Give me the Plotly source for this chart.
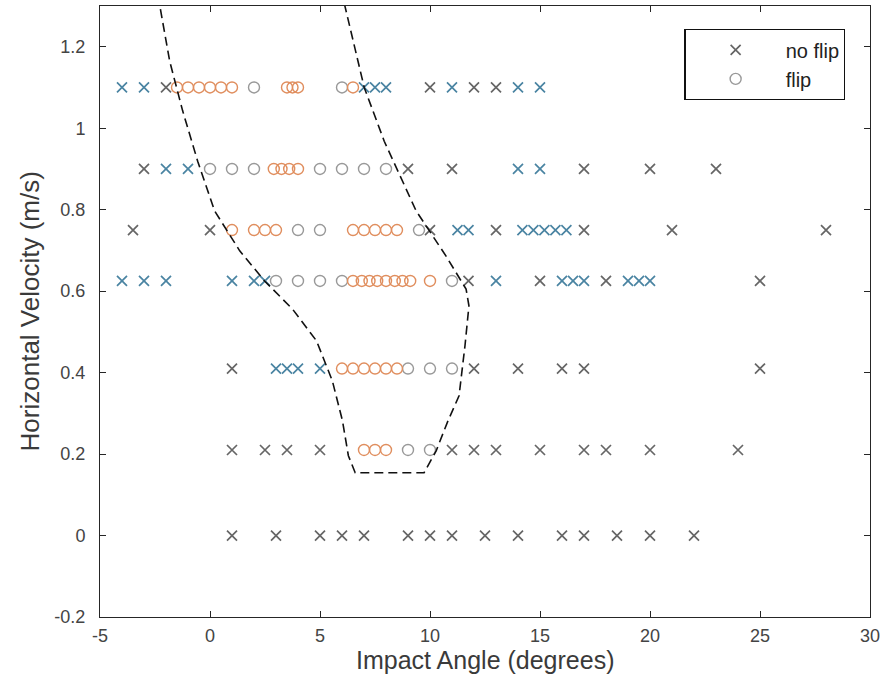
import plotly.graph_objects as go

# Trials that did not flip (gray group / blue group)
noflip_gray_x = [-2, 10, 12, 13,
                 -3, 9, 11, 17, 20, 23,
                 -3.5, 0, 10, 13, 17, 21, 28,
                 11.75, 15, 18, 25,
                 1, 12, 14, 16, 17, 25,
                 1, 2.5, 3.5, 5, 11, 12, 13, 15, 17, 18, 20, 24,
                 1, 3, 5, 6, 7, 9, 10, 11, 12.5, 14, 16, 17, 18.5, 20, 22]
noflip_gray_y = [1.1] * 4 + [0.9] * 6 + [0.75] * 7 + [0.625] * 4 + [0.41] * 6 + [0.21] * 12 + [0.0] * 15

noflip_blue_x = [-4, -3, 7, 7.5, 8, 11, 14, 15,
                 -2, -1, 14, 15,
                 11.25, 11.75, 14.2, 14.7, 15.2, 15.7, 16.2,
                 -4, -3, -2, 1, 2, 2.5, 13, 16, 16.5, 17, 19, 19.5, 20,
                 3, 3.5, 4, 5]
noflip_blue_y = [1.1] * 8 + [0.9] * 4 + [0.75] * 7 + [0.625] * 13 + [0.41] * 4

# Trials that flipped (gray group / orange group)
flip_gray_x = [2, 6,
               0, 1, 2, 5, 6, 7, 8,
               4, 5, 9.5,
               3, 4, 5, 6, 11,
               9, 10, 11,
               9, 10]
flip_gray_y = [1.1] * 2 + [0.9] * 7 + [0.75] * 3 + [0.625] * 5 + [0.41] * 3 + [0.21] * 2

flip_orange_x = [-1.5, -1, -0.5, 0, 0.5, 1, 3.5, 3.75, 4, 6.5,
                 2.9, 3.25, 3.6, 4,
                 1, 2, 2.5, 3, 6.5, 7, 7.5, 8, 8.5,
                 6.5, 6.9, 7.25, 7.6, 8, 8.4, 8.75, 9.1, 10,
                 6, 6.5, 7, 7.5, 8, 8.5,
                 7, 7.5, 8]
flip_orange_y = [1.1] * 10 + [0.9] * 4 + [0.75] * 9 + [0.625] * 9 + [0.41] * 6 + [0.21] * 3

# Boundary of the flip region
boundary_x = [-2.45, -2.28, -1.83, -1.24, -0.56, 0.21, 1.35, 2.48, 3.75, 4.84, 5.56, 6.02, 6.29, 6.60,
              9.73, 10.28, 10.82, 11.32, 11.59, 11.77, 11.64, 10.73, 9.37, 8.51, 7.92, 7.01, 6.11, 6.0]
boundary_y = [1.36, 1.30, 1.164, 1.042, 0.919, 0.797, 0.699, 0.625, 0.556, 0.478, 0.380, 0.282, 0.196, 0.154,
              0.154, 0.208, 0.282, 0.343, 0.466, 0.564, 0.605, 0.686, 0.797, 0.900, 0.968, 1.100, 1.30, 1.33]

x_ticks = [-5, 0, 5, 10, 15, 20, 25, 30]
x_tick_text = ["-5", "0", "5", "10", "15", "20", "25", "30"]
y_ticks = [-0.2, 0, 0.2, 0.4, 0.6, 0.8, 1.0, 1.2]
y_tick_text = ["-0.2", "0", "0.2", "0.4", "0.6", "0.8", "1", "1.2"]

FONT = "Liberation Sans, Arial, sans-serif"
GRAY_X = "#666666"
BLUE_X = "#4a84a2"
GRAY_O = "#999999"
ORANGE_O = "#e08e5e"

cross = dict(symbol="x-thin-open", size=10)
ring = dict(symbol="circle-open", size=11)

fig = go.Figure()
fig.add_trace(go.Scatter(x=noflip_gray_x, y=noflip_gray_y, mode="markers", name="no flip",
                         marker=dict(cross, color=GRAY_X, line=dict(width=1.7, color=GRAY_X))))
fig.add_trace(go.Scatter(x=flip_gray_x, y=flip_gray_y, mode="markers", name="flip",
                         marker=dict(ring, color=GRAY_O, line=dict(width=1.4, color=GRAY_O))))
fig.add_trace(go.Scatter(x=noflip_blue_x, y=noflip_blue_y, mode="markers", showlegend=False,
                         marker=dict(cross, color=BLUE_X, line=dict(width=1.7, color=BLUE_X))))
fig.add_trace(go.Scatter(x=flip_orange_x, y=flip_orange_y, mode="markers", showlegend=False,
                         marker=dict(ring, color=ORANGE_O, line=dict(width=1.4, color=ORANGE_O))))
fig.add_trace(go.Scatter(x=boundary_x, y=boundary_y, mode="lines", showlegend=False,
                         line=dict(color="#111111", width=1.6, dash="9px,5px")))

axis_common = dict(showline=True, linecolor="#262626", linewidth=1, mirror="ticks",
                   ticks="inside", ticklen=6, tickcolor="#262626", showgrid=False, zeroline=False,
                   tickfont=dict(family=FONT, size=18, color="#444444"))

fig.update_layout(
    width=885, height=698,
    margin=dict(l=100, r=13, t=5, b=81),
    plot_bgcolor="white", paper_bgcolor="white",
    xaxis=dict(axis_common, range=[-5, 30], tickvals=x_ticks, ticktext=x_tick_text,
               ticklabelstandoff=2),
    yaxis=dict(axis_common, range=[-0.2, 1.3], tickvals=y_ticks, ticktext=y_tick_text,
               ticklabelstandoff=10),
    annotations=[
        dict(text="Impact Angle (degrees)", xref="paper", yref="paper", x=0.5, y=-0.071,
             xanchor="center", yanchor="middle", showarrow=False,
             font=dict(family=FONT, size=25, color="#3a3a3a")),
        dict(text="Horizontal Velocity (m/s)", xref="paper", yref="paper", x=-0.091, y=0.5,
             xanchor="center", yanchor="middle", textangle=-90, showarrow=False,
             font=dict(family=FONT, size=26, color="#3a3a3a")),
    ],
    legend=dict(x=0.759, y=0.962, xanchor="left", yanchor="top",
                bordercolor="#111111", borderwidth=1.2, bgcolor="white",
                itemwidth=90, tracegroupgap=0,
                font=dict(family=FONT, size=20, color="#222222")),
    showlegend=True,
)

fig.write_html("out.html")
